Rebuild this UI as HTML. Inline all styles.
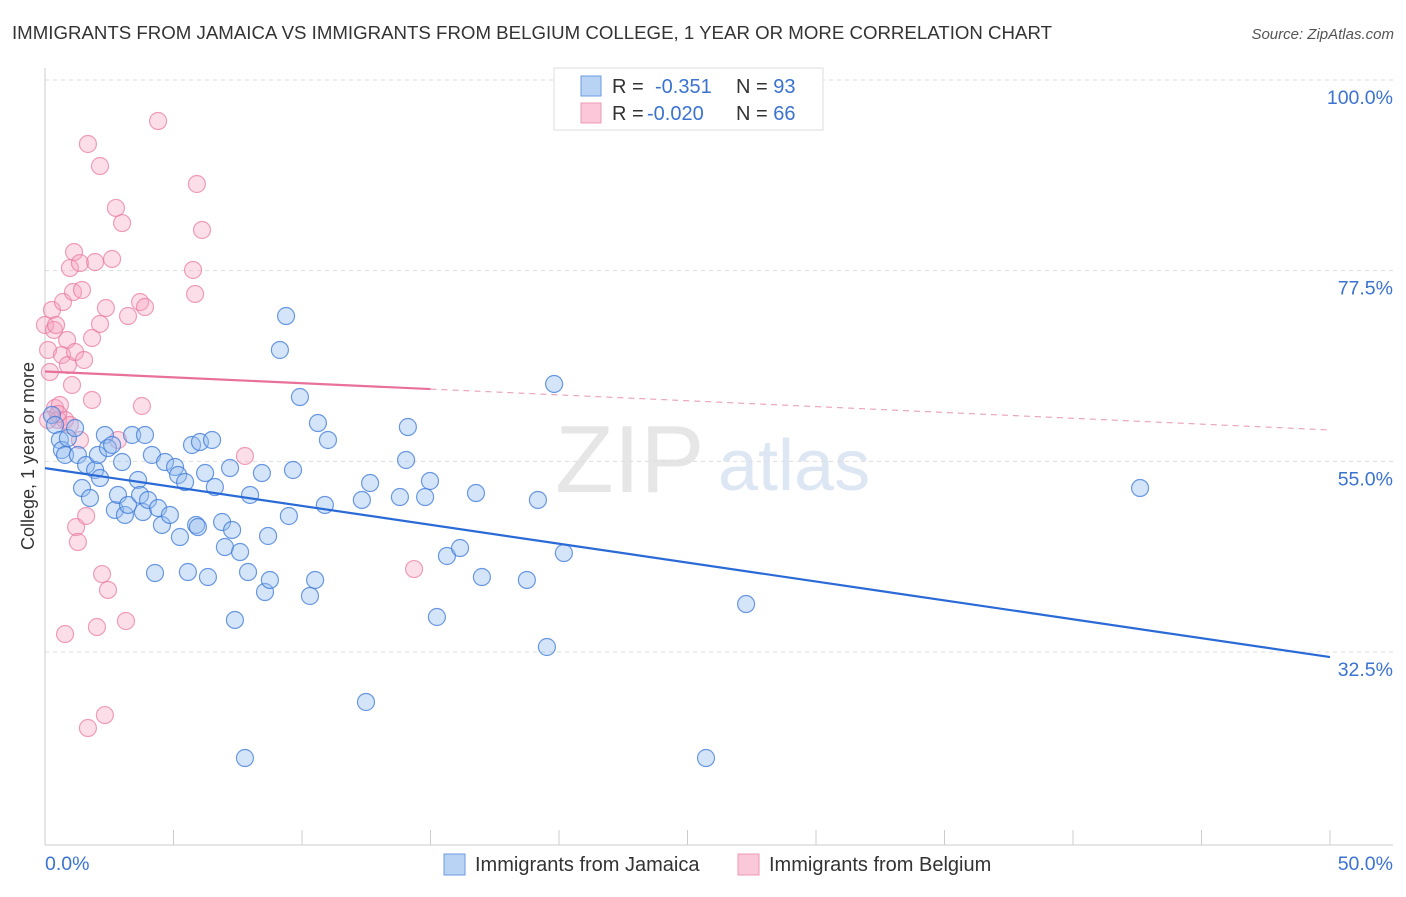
<!DOCTYPE html>
<html><head><meta charset="utf-8"><style>
body{margin:0;background:#fff;font-family:"Liberation Sans",sans-serif}
svg text{font-family:"Liberation Sans",sans-serif}
</style></head><body>
<svg id="c" width="1406" height="892" viewBox="0 0 1406 892">
<text x="12" y="39" font-size="18" fill="#333" textLength="1040" lengthAdjust="spacingAndGlyphs">IMMIGRANTS FROM JAMAICA VS IMMIGRANTS FROM BELGIUM COLLEGE, 1 YEAR OR MORE CORRELATION CHART</text>
<text x="1394" y="39" font-size="15" fill="#555" font-style="italic" text-anchor="end">Source: ZipAtlas.com</text>
<text x="555" y="492" font-size="96" fill="#e6e6e6" font-family="Liberation Serif">ZIP</text>
<text x="718" y="490" font-size="72" fill="#dde6f3">atlas</text>
<g id="grid"></g>
<line x1="45" y1="68" x2="45" y2="845" stroke="#ccc"/>
<line x1="45" y1="845" x2="1393" y2="845" stroke="#ccc"/>
<g id="ticks"></g>
<text transform="translate(34,456) rotate(-90)" font-size="18" fill="#333" text-anchor="middle">College, 1 year or more</text>
<text x="45" y="870" font-size="19.5" fill="#3b73d1">0.0%</text>
<text x="1393" y="870" font-size="19.5" fill="#3b73d1" text-anchor="end">50.0%</text>
<g id="pts"></g>
<g id="trend"></g>
<g>
<rect x="554" y="68" width="269" height="62" fill="#fff" stroke="#ddd"/>
<rect x="581" y="76" width="20" height="20" fill="#b9d3f5" stroke="#6a9be0"/>
<rect x="581" y="103" width="20" height="20" fill="#fac8d8" stroke="#ec9ab5"/>
<text x="612" y="93" font-size="20" fill="#333">R = <tspan x="655" fill="#3b73d1">-0.351</tspan><tspan x="736">N = </tspan><tspan fill="#3b73d1">93</tspan></text>
<text x="612" y="120" font-size="20" fill="#333">R = <tspan x="647" fill="#3b73d1">-0.020</tspan><tspan x="736">N = </tspan><tspan fill="#3b73d1">66</tspan></text>
</g>
<g><rect x="444" y="854" width="21" height="21" fill="#b9d3f5" stroke="#6a9be0"/><text x="475" y="871" font-size="20" fill="#333">Immigrants from Jamaica</text></g>
<g><rect x="738" y="854" width="21" height="21" fill="#fac8d8" stroke="#ec9ab5"/><text x="769" y="871" font-size="20" fill="#333">Immigrants from Belgium</text></g>
</svg>
<script>
const yTicks=[100,77.5,55,32.5];
const yTickLabels=["100.0%","77.5%","55.0%","32.5%"];
const blueX=[0.27,0.39,0.58,0.66,0.78,0.89,1.17,1.28,1.44,1.60,1.75,1.95,2.06,2.14,2.33,2.45,2.61,2.72,2.84,3.0,3.11,3.23,3.39,3.62,3.70,3.81,3.89,4.01,4.16,4.28,4.40,4.55,4.67,4.86,5.06,5.18,5.25,5.45,5.56,5.72,5.88,5.95,6.03,6.23,6.34,6.50,6.61,6.89,7.0,7.2,7.28,7.39,7.59,7.78,7.9,7.98,8.44,8.56,8.68,8.75,9.14,9.38,9.49,9.65,9.92,10.31,10.51,10.62,10.89,11.01,12.33,12.49,12.65,13.81,14.05,14.12,14.79,14.98,15.25,15.64,16.15,16.77,17.0,18.75,19.18,19.53,19.81,20.19,25.72,27.28,42.61];
const blueY=[60.47,59.29,57.52,56.34,55.75,57.75,58.93,55.75,51.85,54.57,50.67,53.98,55.75,53.03,58.11,56.57,56.93,49.26,51.03,54.92,48.67,49.85,58.11,52.80,51.03,49.02,58.11,50.44,55.75,41.82,49.49,47.49,54.92,48.67,54.33,53.39,46.07,52.56,41.94,56.93,47.49,47.25,57.28,53.62,41.35,57.52,51.97,47.84,44.89,54.21,46.90,36.28,44.30,19.99,41.94,51.03,53.62,39.58,46.19,41.0,68.14,72.15,48.55,53.98,62.59,39.11,41.0,59.52,49.85,57.52,50.44,26.60,52.44,50.79,55.16,59.05,50.79,52.68,36.63,43.83,44.77,51.26,41.35,41.0,50.44,33.09,64.13,44.18,19.99,38.16,51.85];
const pinkX=[0,0.12,0.19,0.27,0.35,0.39,0.43,0.51,0.58,0.66,0.70,0.78,0.86,0.89,0.97,1.05,1.09,1.13,1.17,1.21,1.28,1.36,1.44,1.52,1.60,1.67,1.67,1.83,1.83,1.95,2.02,2.14,2.14,2.22,2.37,2.45,2.61,2.76,2.84,3.0,3.15,3.23,3.70,3.77,3.89,4.40,5.76,5.84,5.91,6.11,7.78,14.36,2.33,0.78,0.97,0.51,0.12,1.36];
const pinkY=[71.09,68.14,65.54,72.86,70.50,61.29,71.09,59.88,61.65,67.55,73.80,34.62,69.32,66.37,77.81,64.01,74.98,79.70,67.90,47.25,45.48,78.40,75.22,66.96,48.55,92.45,23.53,62.24,69.55,78.52,35.45,89.85,71.21,41.70,73.09,39.82,78.88,84.90,57.52,83.12,36.16,72.15,73.80,61.53,73.21,95.16,77.58,74.75,87.73,82.30,55.63,42.29,25.06,59.88,59.29,60.59,59.88,57.52];
const blueTrend=[54.2,31.9];
const pinkTrend=[65.6,58.7];
const pinkSolidEnd=15;
const NS="http://www.w3.org/2000/svg";
const sx=v=>45+v*(1285/50);
const sy=v=>80+(100-v)*(572/67.5);
function mk(t,a,p){const e=document.createElementNS(NS,t);for(const k in a)e.setAttribute(k,a[k]);p.appendChild(e);return e;}
const grid=document.getElementById('grid');
yTicks.forEach((t,i)=>{
 const l=mk('line',{x1:45,x2:1393,y1:sy(t),y2:sy(t),stroke:'#ddd','stroke-dasharray':'4 4'},grid);
 
 
 const tx=mk('text',{x:1393,y:sy(t)+24,'font-size':19.5,fill:'#3b73d1','text-anchor':'end'},grid);
 tx.textContent=yTickLabels[i];
 
 
});
const ticks=document.getElementById('ticks');
for(let i=1;i<=10;i++){
 const l=mk('line',{x1:sx(i*5),x2:sx(i*5),y1:830,y2:845,stroke:'#ccc'},ticks);
 
 
}
const pts=document.getElementById('pts');
pinkX.forEach((x,i)=>{
 const c=mk('circle',{cx:sx(x),cy:sy(pinkY[i]),r:8.5,fill:'rgba(245,160,190,0.35)',stroke:'rgba(232,120,160,0.7)','stroke-width':1.2},pts);
 
 
});
blueX.forEach((x,i)=>{
 const c=mk('circle',{cx:sx(x),cy:sy(blueY[i]),r:8.5,fill:'rgba(150,190,240,0.4)',stroke:'rgba(60,120,215,0.75)','stroke-width':1.2},pts);
 
 
});
const tr=document.getElementById('trend');
const bl=mk('line',{x1:sx(0),y1:sy(blueTrend[0]),x2:sx(50),y2:sy(blueTrend[1]),stroke:'#2a6ad6','stroke-width':2.2},tr);


const pAt=x=>pinkTrend[0]+(pinkTrend[1]-pinkTrend[0])*x/50;
const pl=mk('line',{x1:sx(0),y1:sy(pAt(0)),x2:sx(pinkSolidEnd),y2:sy(pAt(pinkSolidEnd)),stroke:'#e8709a','stroke-width':2.2},tr);


const pd=mk('line',{x1:sx(pinkSolidEnd),y1:sy(pAt(pinkSolidEnd)),x2:sx(50),y2:sy(pAt(50)),stroke:'#eaa0bb','stroke-width':1.2,'stroke-dasharray':'6 5'},tr);


</script>
</body></html>
